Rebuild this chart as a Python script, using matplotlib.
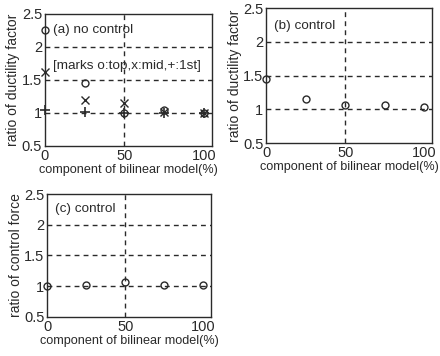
import matplotlib.pyplot as plt
import numpy as np

plt.rcParams['font.family'] = ['Liberation Sans', 'DejaVu Sans']

# component of bilinear model (%)
comp = [0, 25, 50, 75, 100]

# (a) no control: ratio of ductility factor
a_top = [2.25, 1.45, 1.0, 1.05, 1.0]
a_mid = [1.62, 1.2, 1.15, 1.02, 1.0]
a_1st = [1.05, 1.02, 1.0, 1.0, 1.0]

# (b) control: ratio of ductility factor
b_top = [1.45, 1.15, 1.07, 1.07, 1.03]

# (c) control: ratio of control force
c_force = [1.0, 1.02, 1.07, 1.02, 1.02]

xticks = [0, 50, 100]
yticks = [0.5, 1, 1.5, 2, 2.5]
ytick_labels = ['0.5', '1', '1.5', '2', '2.5']

ink = '#2a2a2a'

fig = plt.figure(figsize=(4.4, 3.56), dpi=100)


def style(ax, ylabel):
    ax.set_xlim(0, 105)
    ax.set_ylim(0.5, 2.5)
    ax.set_xticks(xticks)
    ax.set_yticks(yticks)
    ax.set_yticklabels(ytick_labels)
    ax.tick_params(direction='in', length=0, labelsize=10.5, colors=ink, pad=2)
    for v in [1, 1.5, 2]:
        ax.axhline(v, color=ink, ls=(0, (3.5, 3)), lw=1.0, zorder=1)
    ax.axvline(50, color=ink, ls=(0, (3.5, 3)), lw=1.0, zorder=1)
    for s in ax.spines.values():
        s.set_color(ink)
        s.set_linewidth(1.0)
    ax.set_xlabel('component of bilinear model(%)', fontsize=9.1, color=ink, labelpad=1)
    ax.set_ylabel(ylabel, fontsize=10, color=ink, labelpad=1)


ax1 = fig.add_axes([0.102, 0.590, 0.380, 0.371])
style(ax1, 'ratio of ductility factor')
ax1.plot(comp, a_top, 'o', mfc='none', mec=ink, ms=5, mew=1, clip_on=False, zorder=3)
ax1.plot(comp, a_mid, 'x', color=ink, ms=6, mew=1, clip_on=False, zorder=3)
ax1.plot(comp, a_1st, '+', color=ink, ms=7, mew=1.2, clip_on=False, zorder=3)
ax1.text(5, 2.25, '(a) no control', fontsize=9.7, color=ink, va='center')
ax1.text(5, 1.71, '[marks o:top,x:mid,+:1st]', fontsize=9.7, color=ink, va='center')

ax2 = fig.add_axes([0.605, 0.598, 0.377, 0.379])
style(ax2, 'ratio of ductility factor')
ax2.plot(comp, b_top, 'o', mfc='none', mec=ink, ms=5, mew=1, clip_on=False, zorder=3)
ax2.text(5, 2.23, '(b) control', fontsize=9.7, color=ink, va='center')

ax3 = fig.add_axes([0.107, 0.110, 0.373, 0.345])
style(ax3, 'ratio of control force')
ax3.plot(comp, c_force, 'o', mfc='none', mec=ink, ms=5, mew=1, clip_on=False, zorder=3)
ax3.text(5, 2.25, '(c) control', fontsize=9.7, color=ink, va='center')

fig.savefig('out.png', dpi=100)
